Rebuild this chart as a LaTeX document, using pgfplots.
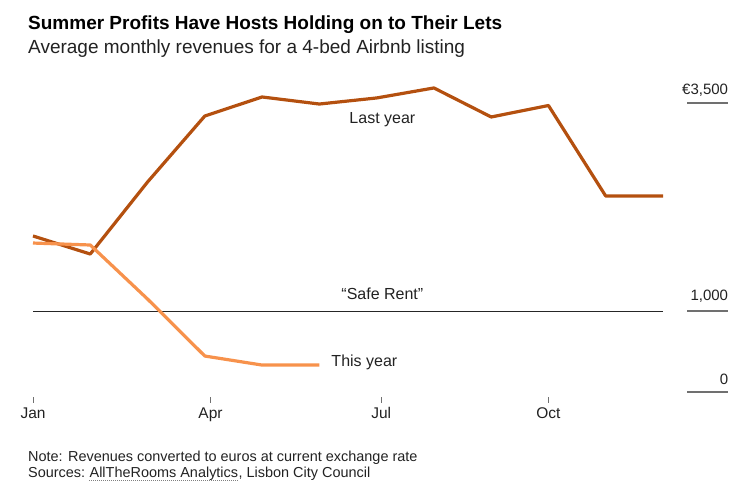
\documentclass[border=0pt]{standalone}
\usepackage{pgfplots}
\pgfplotsset{compat=1.18}
\usepackage{fontspec}
\setmainfont{Liberation Sans}

\definecolor{lastyr}{HTML}{B4500F}
\definecolor{thisyr}{HTML}{F7924C}
\definecolor{txt}{HTML}{222222}
\definecolor{rule}{HTML}{707070}

% months: Jan = 0 ... Dec = 11, values in euros
\pgfplotstableread{
m  v
0  1915
1  1695
2  2573
3  3378
4  3610
5  3524
6  3598
7  3720
8  3366
9  3506
10 2402
11 2402
}\lastyear

\pgfplotstableread{
m  v
0  1829
1  1805
2  1146
3  451
4  341
5  341
}\thisyear

\begin{document}
\begin{tikzpicture}[font=\fontsize{16}{19}\selectfont, text=txt]
    \useasboundingbox (-33pt,-85pt) rectangle (707pt,400pt);
    \begin{axis}[
            at={(0,0)}, anchor=south west,
            scale only axis,
            width=630pt, height=294pt,
            xmin=0, xmax=11,
            ymin=-85, ymax=3500,
            clip=false,
            axis line style={draw=none},
            axis y line=none,
            axis x line=bottom,
            xtick={0,3.1,6.08,9},
            xticklabels={Jan,Apr,Jul,Oct},
            tick align=center,
            major tick length=6pt,
            x tick style={rule, line width=0.6pt},
            xticklabel style={text=txt, yshift=-1pt, font=\fontsize{15.5}{18}\selectfont},
        ]

        % "safe rent" reference
        \addplot[black!85, line width=1pt] coordinates {(0,1000) (11,1000)};

        \addplot[lastyr, line width=3.2pt, line join=round] table[x=m, y=v] {\lastyear};
        \addplot[thisyr, line width=3.2pt, line join=round] table[x=m, y=v] {\thisyear};

        \node at (axis cs:6.1,3330) {Last year};
        \node[anchor=west] at (axis cs:5.15,375) {This year};
        \node at (axis cs:6.1,1205) {``Safe Rent''};

        % right-hand value labels
        \draw[rule, line width=1.4pt] (axis cs:11.42,3537) -- (axis cs:12.14,3537);
        \draw[rule, line width=1.4pt] (axis cs:11.42,1000) -- (axis cs:12.14,1000);
        \draw[rule, line width=1.4pt] (axis cs:11.42,12) -- (axis cs:12.14,12);
        \node[anchor=base east, inner sep=0pt, font=\fontsize{15}{18}\selectfont] at (axis cs:12.14,3640) {€3,500};
        \node[anchor=base east, inner sep=0pt, font=\fontsize{15}{18}\selectfont] at (axis cs:12.14,1125) {1,000};
        \node[anchor=base east, inner sep=0pt, font=\fontsize{15}{18}\selectfont] at (axis cs:12.14,100) {0};
    \end{axis}

    \node[anchor=base west, inner sep=0pt, text=black]
        at (-5pt,370pt) {\fontsize{19}{22}\selectfont\bfseries Summer Profits Have Hosts Holding on to Their Lets};
    \node[anchor=base west, inner sep=0pt]
        at (-5pt,346pt) {\fontsize{19}{22}\selectfont Average monthly revenues for a 4-bed Airbnb listing};
    \node[anchor=base west, inner sep=0pt]
        at (-5pt,-61pt) {\fontsize{14.45}{16}\selectfont Note: Revenues converted to euros at current exchange rate};
    \node[anchor=base west, inner sep=0pt] (s1)
        at (-5pt,-77pt) {\fontsize{14.45}{16}\selectfont Sources:};
    \node[anchor=base west, inner sep=0pt] (s2)
        at ([xshift=4pt]s1.base east) {\fontsize{14.45}{16}\selectfont AllTheRooms Analytics};
    \node[anchor=base west, inner sep=0pt]
        at (s2.base east) {\fontsize{14.45}{16}\selectfont , Lisbon City Council};
    \draw[gray, line width=0.6pt, dash pattern=on 0.8pt off 1.2pt]
        ([yshift=-3pt]s2.base west) -- ([yshift=-3pt]s2.base east);
\end{tikzpicture}
\end{document}
